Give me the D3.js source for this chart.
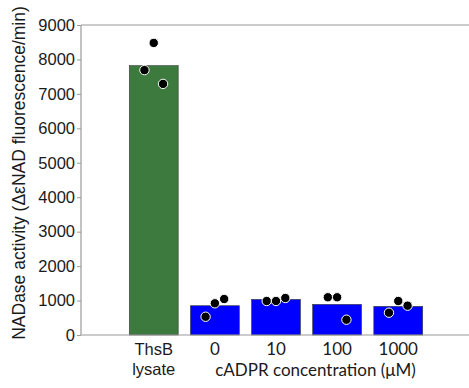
<!DOCTYPE html>
<html><head><meta charset="utf-8">
<script src="https://cdn.jsdelivr.net/npm/d3@7/dist/d3.min.js"></script>
<style>body{margin:0;background:#fff}svg{display:block}</style>
</head><body><svg id="c" width="469" height="388"></svg>
<script>
const categories = ["ThsB lysate", "0", "10", "100", "1000"];
const barMeans = [7820, 850, 1035, 890, 833];
const rep1 = [7690, 530, 987, 1095, 647];
const rep2 = [8480, 920, 987, 1095, 987];
const rep3 = [7290, 1045, 1074, 444, 851];
const yTicks = [0, 1000, 2000, 3000, 4000, 5000, 6000, 7000, 8000, 9000];
const barColors = ["#3d7a3d", "#0000ff", "#0000ff", "#0000ff", "#0000ff"];

const ARIAL = "'Liberation Sans', Arial, sans-serif";
const HUMAN = "Lato, 'Open Sans', sans-serif";
const W = 469, H = 388;
const svg = d3.select("#c");
const y = d3.scaleLinear().domain([0, 9000]).range([335, 25]);
const x = d3.scaleBand().domain(categories).range([81, 471]).paddingInner(0.2).paddingOuter(0.79);

svg.append("line").attr("x1", 81).attr("x2", W).attr("y1", y(9000)).attr("y2", y(9000))
  .attr("stroke", "#9a9a9a").attr("stroke-width", 1.2);

svg.append("g").selectAll("rect").data(categories).join("rect")
  .attr("x", d => x(d)).attr("width", x.bandwidth())
  .attr("y", (d, i) => y(barMeans[i])).attr("height", (d, i) => y(0) - y(barMeans[i]))
  .attr("fill", (d, i) => barColors[i]).attr("stroke", "#3a3a3a").attr("stroke-width", 0.6);

const ya = svg.append("g").attr("transform", "translate(81,0)")
  .call(d3.axisLeft(y).tickValues(yTicks).tickSize(4).tickPadding(2).tickFormat(d3.format("d")));
ya.attr("font-family", ARIAL);
ya.select(".domain").attr("stroke", "#9a9a9a").attr("stroke-width", 1.2).attr("d", `M0,${y(9000)}V${y(0)}`);
ya.selectAll(".tick line").attr("stroke", "#9a9a9a");
ya.selectAll(".tick text").style("font-family", ARIAL).attr("font-size", 16.5).attr("fill", "#1a1a1a");

svg.append("line").attr("x1", 81).attr("x2", W).attr("y1", y(0)).attr("y2", y(0))
  .attr("stroke", "#9a9a9a").attr("stroke-width", 1.2);

const reps = [rep1, rep2, rep3];
const dots = [];
categories.forEach((c, i) => reps.forEach((r, j) => dots.push({c, v: r[i], j})));
svg.append("g").selectAll("circle").data(dots).join("circle")
  .attr("cx", d => x(d.c) + x.bandwidth() / 2 + (d.j - 1) * 9.3)
  .attr("cy", d => y(d.v)).attr("r", 4.7)
  .attr("fill", "#000").attr("stroke", "#fff").attr("stroke-width", 1);

const xl = svg.append("g");
const c0 = x(categories[0]) + x.bandwidth() / 2;
const parts = categories[0].split(" ");
xl.append("text").attr("x", c0).attr("y", 355).attr("text-anchor", "middle")
  .style("font-family", ARIAL).attr("font-size", 16.5).attr("fill", "#1a1a1a").text(parts[0]);
xl.append("text").attr("x", c0).attr("y", 375).attr("text-anchor", "middle")
  .style("font-family", ARIAL).attr("font-size", 16.5).attr("fill", "#1a1a1a").text(parts[1]);
xl.selectAll(".num").data(categories.slice(1)).join("text").attr("class", "num")
  .attr("x", d => x(d) + x.bandwidth() / 2).attr("y", 355).attr("text-anchor", "middle")
  .style("font-family", HUMAN).attr("font-size", 17).attr("fill", "#1a1a1a").text(d => d);
xl.append("text").attr("x", 315.5).attr("y", 376).attr("text-anchor", "middle")
  .style("font-family", HUMAN).attr("font-size", 17).attr("fill", "#1a1a1a")
  .text("cADPR concentration (μM)");

svg.append("text").attr("transform", "translate(25,173) rotate(-90)").attr("text-anchor", "middle")
  .style("font-family", ARIAL).attr("font-size", 17.5).attr("fill", "#1a1a1a")
  .text("NADase activity (ΔεNAD fluorescence/min)");
</script></body></html>
